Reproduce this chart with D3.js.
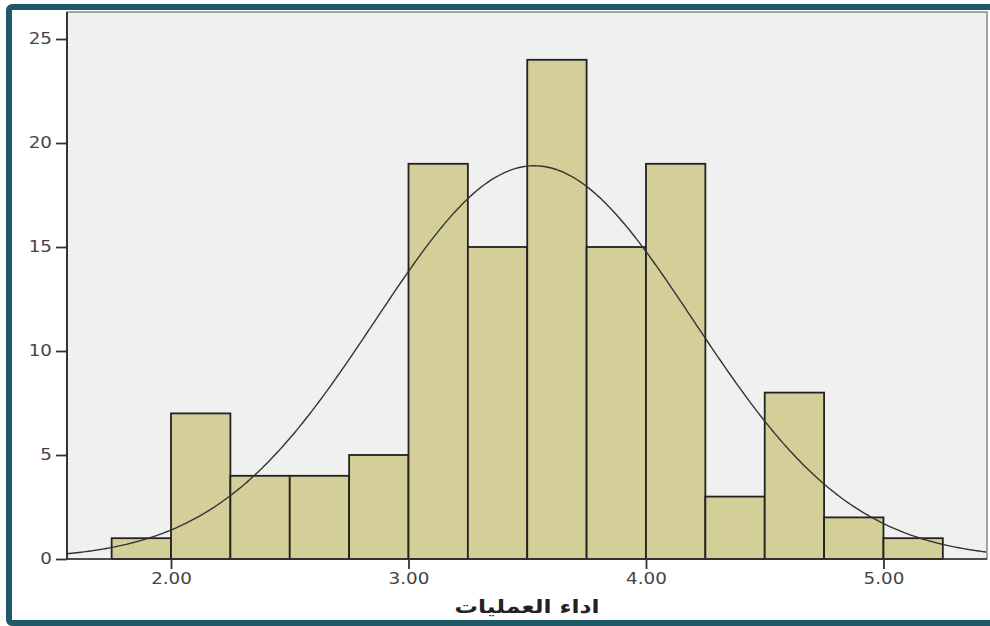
<!DOCTYPE html>
<html>
<head>
<meta charset="utf-8">
<script src="https://cdn.jsdelivr.net/npm/d3@7"></script>
<style>
  body { margin: 0; background: #fff; }
  svg { display: block; }
</style>
</head>
<body>
<svg id="chart"></svg>
<script>
// histogram bins (lower edge, width 0.25) and counts
const binStarts = [1.75, 2.00, 2.25, 2.50, 2.75, 3.00, 3.25, 3.50, 3.75, 4.00, 4.25, 4.50, 4.75, 5.00];
const counts = [1, 7, 4, 4, 5, 19, 15, 24, 15, 19, 3, 8, 2, 1];
const binWidth = 0.25;
const xTicks = [2, 3, 4, 5];
const yTicks = [0, 5, 10, 15, 20, 25];
// fitted normal curve parameters
const mean = 3.53;
const sd = 0.67;
const total = 127;
const xLabel = "اداء العمليات";

const width = 990, height = 626;
const margin = {top: 12, right: 3, bottom: 68, left: 67};

const svg = d3.select("#chart")
  .attr("width", width)
  .attr("height", height);

// outer teal frame
svg.append("rect")
  .attr("x", 9).attr("y", 7)
  .attr("width", 1000).attr("height", 616)
  .attr("rx", 3)
  .attr("fill", "none")
  .attr("stroke", "#1f5a69")
  .attr("stroke-width", 6);

const x = d3.scaleLinear()
  .domain([1.562, 5.436])
  .range([margin.left, width - margin.right]);

const y = d3.scaleLinear()
  .domain([0, 25])
  .range([559, 39]);

const plotTop = margin.top;

// plot background
svg.append("rect")
  .attr("x", margin.left).attr("y", plotTop)
  .attr("width", x.range()[1] - margin.left)
  .attr("height", y(0) - plotTop)
  .attr("fill", "#f0f0f0")
  .attr("stroke", "#888")
  .attr("stroke-width", 1.5);

// bars
svg.append("g")
  .selectAll("rect")
  .data(counts)
  .join("rect")
  .attr("x", (d, i) => x(binStarts[i]))
  .attr("y", d => y(d))
  .attr("width", (d, i) => x(binStarts[i] + binWidth) - x(binStarts[i]))
  .attr("height", d => y(0) - y(d))
  .attr("fill", "#d4cf98")
  .attr("stroke", "#222")
  .attr("stroke-width", 1.8);

// normal curve
const curveX = d3.range(x.domain()[0], x.domain()[1] + 0.001, 0.01);
const density = v => total * binWidth / (sd * Math.sqrt(2 * Math.PI)) * Math.exp(-0.5 * ((v - mean) / sd) ** 2);
svg.append("path")
  .datum(curveX)
  .attr("fill", "none")
  .attr("stroke", "#333")
  .attr("stroke-width", 1.4)
  .attr("d", d3.line().x(d => x(d)).y(d => y(density(d))));

// axes
const yAxis = svg.append("g")
  .attr("transform", `translate(${margin.left},0)`)
  .call(d3.axisLeft(y).tickValues(yTicks).tickSize(11).tickPadding(4));
yAxis.select(".domain").remove();
svg.append("line")
  .attr("x1", margin.left).attr("x2", margin.left)
  .attr("y1", plotTop).attr("y2", y(0))
  .attr("stroke", "#333").attr("stroke-width", 2);

const xAxis = svg.append("g")
  .attr("transform", `translate(0,${y(0)})`)
  .call(d3.axisBottom(x).tickValues(xTicks).tickSize(10).tickPadding(4).tickFormat(d3.format(".2f")));
xAxis.select(".domain").remove();
svg.append("line")
  .attr("x1", margin.left).attr("x2", x.range()[1])
  .attr("y1", y(0)).attr("y2", y(0))
  .attr("stroke", "#333").attr("stroke-width", 1.6);

svg.selectAll(".tick line").attr("stroke", "#333").attr("stroke-width", 1.8);
svg.selectAll(".tick text")
  .attr("fill", "#444")
  .style("font-family", "'DejaVu Sans', sans-serif")
  .style("font-size", "15px")
  .each(function() {
    // the original labels are drawn wider than the font
    const w = this.getComputedTextLength();
    d3.select(this).attr("textLength", w * 1.22).attr("lengthAdjust", "spacingAndGlyphs");
  });

svg.append("text")
  .attr("x", 527).attr("y", 613)
  .attr("text-anchor", "middle")
  .attr("fill", "#222")
  .attr("textLength", 145)
  .attr("lengthAdjust", "spacingAndGlyphs")
  .style("font-family", "'DejaVu Sans', 'Noto Sans', sans-serif")
  .style("font-size", "19px")
  .style("font-weight", "bold")
  .text(xLabel);
</script>
</body>
</html>
